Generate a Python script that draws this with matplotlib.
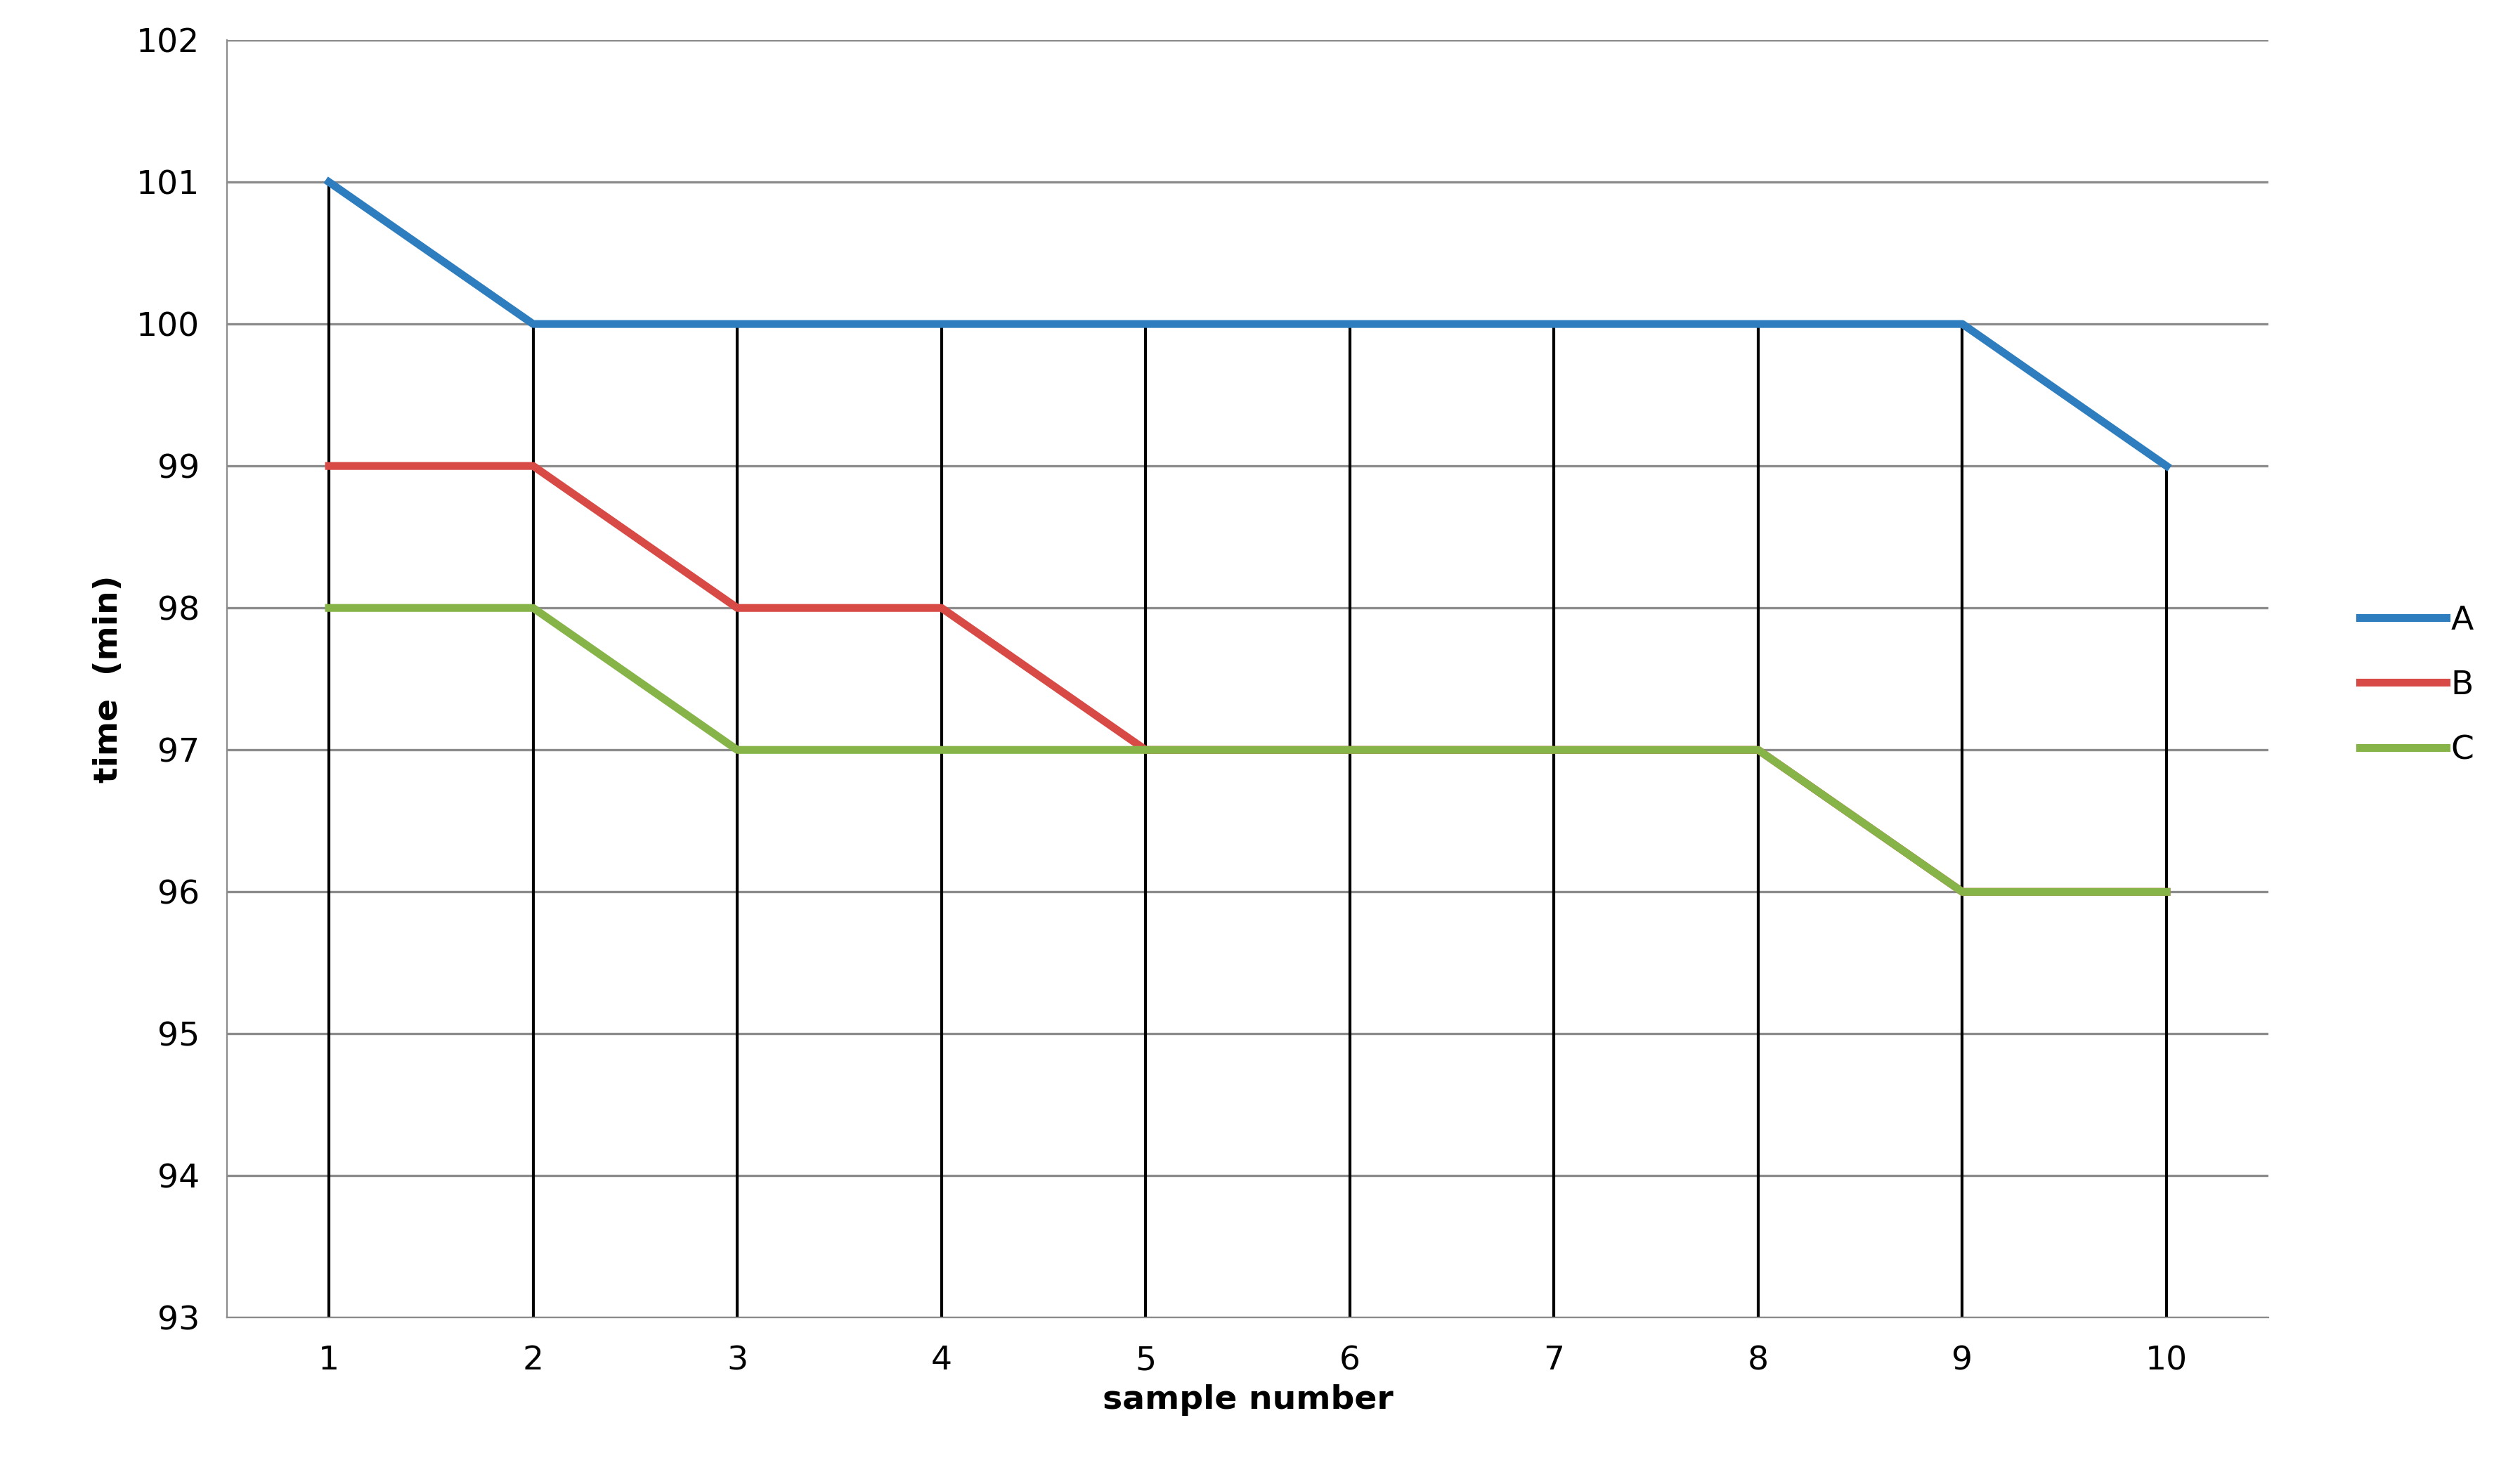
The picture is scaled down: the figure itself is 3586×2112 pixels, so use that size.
import matplotlib.pyplot as plt

samples = [1, 2, 3, 4, 5, 6, 7, 8, 9, 10]
series_a = [101, 100, 100, 100, 100, 100, 100, 100, 100, 99]
series_b = [99, 99, 98, 98, 97, 97, 97, 97, 96, 96]
series_c = [98, 98, 97, 97, 97, 97, 97, 97, 96, 96]
yticks = list(range(93, 103))

fig = plt.figure(figsize=(17.935, 10.56), dpi=200)
ax = fig.add_axes([0.09, 0.112, 0.81, 0.861])

for y in yticks:
    ax.axhline(y, color='#8c8c8c', lw=1.2, zorder=0)

# drop lines from the highest series down to the axis
for x, top in zip(samples, series_a):
    ax.plot([x, x], [93, top], color='black', lw=1.5, zorder=1)

ax.plot(samples, series_a, color='#2e7ebf', lw=4, label='A', zorder=3)
ax.plot(samples, series_b, color='#d84a45', lw=4, label='B', zorder=3)
ax.plot(samples, series_c, color='#86b448', lw=4, label='C', zorder=4)

ax.set_xlim(0.5, 10.5)
ax.set_ylim(93, 102)
ax.set_xticks(samples)
ax.set_yticks(yticks)
ax.tick_params(labelsize=17, length=0, pad=14)
for s in ['top', 'right']:
    ax.spines[s].set_visible(False)
ax.spines['left'].set_color('#8c8c8c')
ax.spines['bottom'].set_color('#8c8c8c')
ax.set_xlabel('sample number', fontsize=17, fontweight='bold', labelpad=4)
ax.set_ylabel('time  (min)', fontsize=17, fontweight='bold', labelpad=6)

ax.legend(loc='center left', bbox_to_anchor=(1.03, 0.495), frameon=False,
          fontsize=17, handlelength=2.6, handletextpad=0.15, labelspacing=1.0)

fig.savefig('out.png')
